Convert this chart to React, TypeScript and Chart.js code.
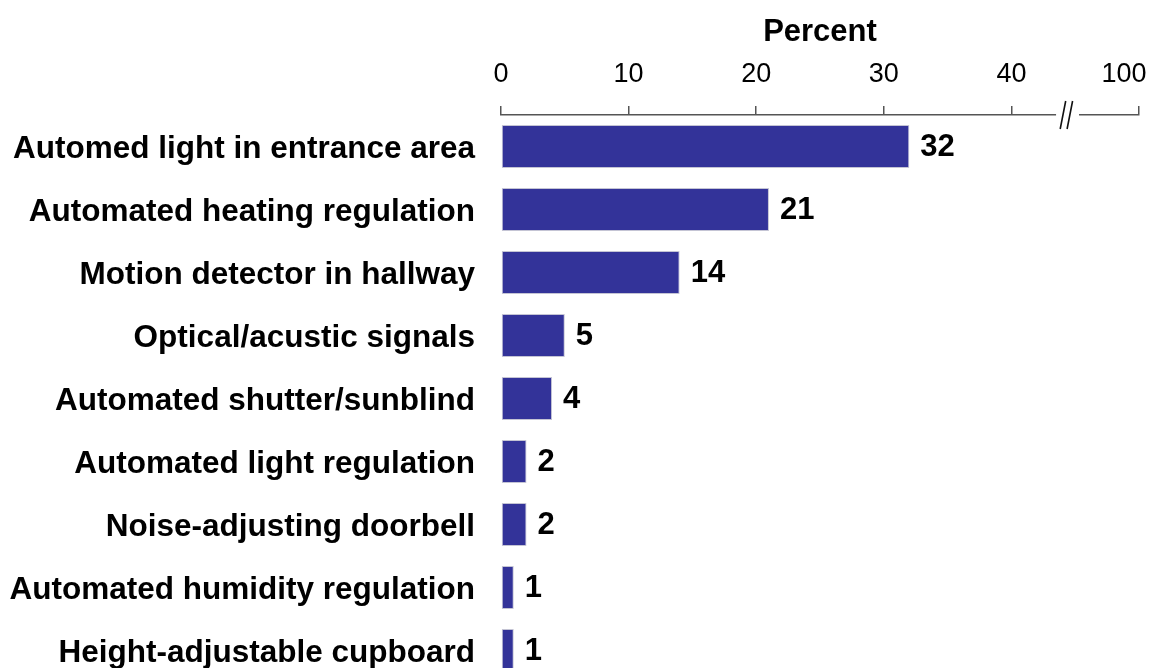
import React, { useEffect, useRef } from "react";
import { Chart, registerables } from "chart.js";

Chart.register(...registerables);

// Share of homes with each automation feature (percent)
const categories: string[] = [
  "Automed light in entrance area",
  "Automated heating regulation",
  "Motion detector in hallway",
  "Optical/acustic signals",
  "Automated shutter/sunblind",
  "Automated light regulation",
  "Noise-adjusting doorbell",
  "Automated humidity regulation",
  "Height-adjustable cupboard",
];
const percentValues: number[] = [32, 21, 14, 5, 4, 2, 2, 1, 1];

// Axis ticks; the last position stands in for 100 after the axis break
// (its label is padded so it sits inside the canvas, left of its tick)
const tickValues: number[] = [0, 10, 20, 30, 40, 50];
const tickLabels: string[] = ["0", "10", "20", "30", "40", "100    "];
const breakFrom = 43.5;
const breakTo = 45.3;

const FONT = "'Liberation Sans', Arial, Helvetica, sans-serif";
const BAR_COLOR = "#333399";

const valueLabels = {
  id: "valueLabels",
  afterDatasetsDraw(chart: any) {
    const ctx = chart.ctx;
    const meta = chart.getDatasetMeta(0);
    ctx.save();
    ctx.font = `bold 31px ${FONT}`;
    ctx.fillStyle = "#000";
    ctx.textAlign = "left";
    ctx.textBaseline = "middle";
    meta.data.forEach((bar: any, i: number) => {
      ctx.fillText(String(percentValues[i]), bar.x + 11, bar.y + 1);
    });
    ctx.restore();
  },
};

const axisBreak = {
  id: "axisBreak",
  afterDraw(chart: any) {
    const ctx = chart.ctx;
    const x = chart.scales.x;
    const y0 = chart.chartArea.top;
    const a = x.getPixelForValue(breakFrom);
    const b = x.getPixelForValue(breakTo);
    ctx.save();
    ctx.fillStyle = "#fff";
    ctx.fillRect(a, y0 - 4, b - a, 8);
    ctx.strokeStyle = "#111";
    ctx.lineWidth = 1.6;
    const w = b - a;
    const s1 = a + w * 0.18;
    const s2 = a + w * 0.48;
    ctx.beginPath();
    ctx.moveTo(s1, y0 + 14);
    ctx.lineTo(s1 + 5.5, y0 - 14);
    ctx.moveTo(s2, y0 + 14);
    ctx.lineTo(s2 + 5.5, y0 - 14);
    ctx.stroke();
    ctx.restore();
  },
};

export default function App() {
  const canvasRef = useRef<HTMLCanvasElement | null>(null);

  useEffect(() => {
    if (!canvasRef.current) return;
    const chart = new Chart(canvasRef.current, {
      type: "bar",
      data: {
        labels: categories,
        datasets: [
          {
            data: percentValues,
            backgroundColor: BAR_COLOR,
            borderColor: "#c4c4d4",
            borderWidth: 1,
            borderSkipped: false,
            categoryPercentage: 1,
            barPercentage: 0.683,
          },
        ],
      },
      options: {
        indexAxis: "y",
        responsive: false,
        animation: false,
        layout: { padding: { left: 0, top: 0, right: 18, bottom: 18 } },
        plugins: {
          legend: { display: false },
          tooltip: { enabled: false },
        },
        scales: {
          x: {
            position: "top",
            min: 0,
            max: 50,
            afterBuildTicks(scale: any) {
              scale.ticks = tickValues.map((v) => ({ value: v }));
            },
            afterFit(scale: any) {
              scale.height = 115;
              scale.paddingLeft = 0;
              scale.paddingRight = 0;
            },
            ticks: {
              autoSkip: false,
              maxRotation: 0,
              padding: 15,
              color: "#000",
              font: { family: FONT, size: 27, weight: "normal" },
              callback: (v: any) => tickLabels[tickValues.indexOf(Number(v))] ?? "",
            },
            grid: {
              display: true,
              drawOnChartArea: false,
              drawTicks: true,
              tickLength: 9,
              color: "#555",
              lineWidth: 1.5,
            },
            border: { display: true, color: "#555", width: 1.5 },
            title: {
              display: true,
              text: "Percent",
              color: "#000",
              font: { family: FONT, size: 31, weight: "bold" },
              padding: { top: 14, bottom: 0 },
            },
          },
          y: {
            afterFit(scale: any) {
              scale.width = 501;
              scale.paddingTop = 0;
              scale.paddingBottom = 0;
            },
            ticks: {
              padding: 26,
              labelOffset: 3,
              color: "#000",
              font: { family: FONT, size: 31.5, weight: "bold" },
            },
            grid: { display: false, drawTicks: false },
            border: { display: false },
          },
        },
      },
      plugins: [valueLabels, axisBreak],
    });
    return () => chart.destroy();
  }, []);

  return (
    <div style={{ position: "fixed", left: 0, top: 0, background: "#fff" }}>
      <canvas ref={canvasRef} width={1157} height={700} />
    </div>
  );
}
